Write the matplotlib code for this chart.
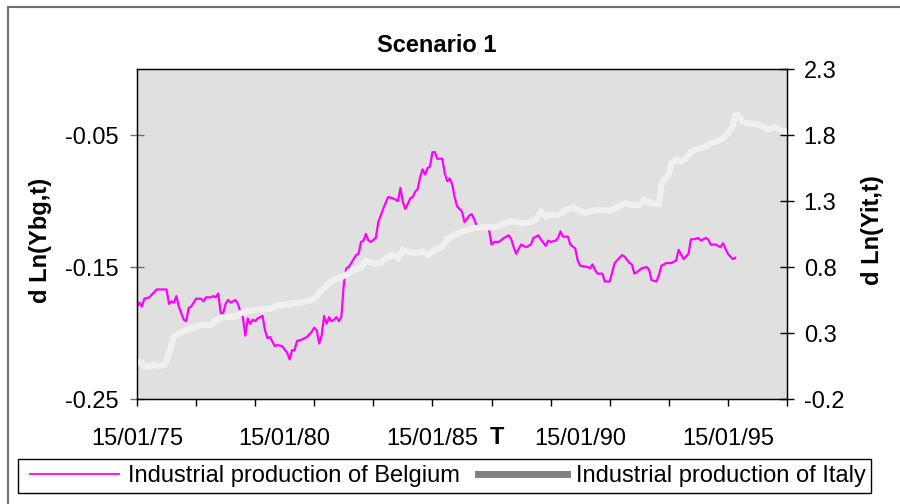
import matplotlib
matplotlib.use("Agg")
import matplotlib.pyplot as plt
from matplotlib.lines import Line2D
from matplotlib.patches import Rectangle

plt.rcParams['font.family'] = ['Liberation Sans', 'DejaVu Sans']

# Belgium (left axis), month index from 15/01/75
bel_month = [0, 1, 2, 3, 5, 7, 8, 12, 13, 14, 15, 16, 17, 19, 20, 21, 22, 24, 26, 27,
             28, 30, 31, 32, 33, 34, 35, 36, 37, 38, 40, 41, 42, 43, 44, 45, 46, 47, 48, 49,
             51, 52, 53, 54, 56, 57, 59, 61, 62, 63, 64, 65, 67, 69, 71, 72, 73, 74, 75, 76,
             77, 78, 79, 80, 81, 82, 83, 84, 85, 86, 89, 90, 91, 92, 93, 94, 95, 97, 98, 100,
             102, 104, 106, 107, 108, 109, 111, 112, 113, 114, 115, 116, 117, 118, 119, 120,
             121, 122, 123, 124, 125, 126, 127, 128, 129, 130, 132, 133, 135, 136, 137, 138,
             142, 143, 144, 145, 147, 149, 151, 152, 153, 154, 156, 158, 160, 161, 163, 164,
             166, 167, 168, 170, 171, 172, 173, 175, 176, 178, 179, 180, 183, 184, 185, 186,
             187, 189, 190, 192, 194, 195, 197, 198, 200, 201, 202, 203, 205, 207, 208, 209,
             211, 212, 213, 215, 217, 219, 220, 222, 224, 225, 226, 228, 229, 231, 232, 233,
             235, 237, 238, 239, 240, 242, 243]
bel_value = [-0.180, -0.177, -0.180, -0.174, -0.173, -0.169, -0.167, -0.167, -0.178, -0.176,
             -0.177, -0.172, -0.180, -0.190, -0.191, -0.181, -0.180, -0.174, -0.174, -0.176,
             -0.173, -0.173, -0.172, -0.173, -0.170, -0.185, -0.185, -0.178, -0.175, -0.177,
             -0.175, -0.178, -0.184, -0.188, -0.202, -0.189, -0.193, -0.190, -0.191, -0.189,
             -0.187, -0.198, -0.204, -0.203, -0.210, -0.209, -0.210, -0.215, -0.220, -0.213,
             -0.213, -0.206, -0.205, -0.203, -0.199, -0.196, -0.198, -0.208, -0.202, -0.187,
             -0.193, -0.188, -0.191, -0.190, -0.188, -0.191, -0.188, -0.163, -0.151, -0.150,
             -0.141, -0.140, -0.131, -0.130, -0.125, -0.130, -0.131, -0.128, -0.116, -0.106,
             -0.097, -0.098, -0.100, -0.090, -0.101, -0.106, -0.098, -0.097, -0.093, -0.091,
             -0.082, -0.076, -0.080, -0.075, -0.074, -0.063, -0.063, -0.068, -0.068, -0.068,
             -0.079, -0.085, -0.083, -0.087, -0.097, -0.104, -0.108, -0.116, -0.111, -0.110,
             -0.114, -0.119, -0.120, -0.122, -0.133, -0.131, -0.131, -0.128, -0.126, -0.129,
             -0.135, -0.140, -0.133, -0.135, -0.133, -0.128, -0.126, -0.129, -0.134, -0.130,
             -0.131, -0.130, -0.128, -0.123, -0.127, -0.127, -0.133, -0.136, -0.145, -0.149,
             -0.150, -0.151, -0.148, -0.152, -0.155, -0.155, -0.161, -0.161, -0.147, -0.145,
             -0.141, -0.142, -0.147, -0.148, -0.155, -0.154, -0.151, -0.150, -0.152, -0.160,
             -0.161, -0.156, -0.149, -0.147, -0.147, -0.145, -0.137, -0.144, -0.140, -0.129,
             -0.129, -0.128, -0.130, -0.128, -0.129, -0.133, -0.133, -0.135, -0.132, -0.136,
             -0.140, -0.144, -0.143]

# Italy (right axis)
ita_month = [0, 2, 3, 5, 7, 9, 11, 12, 13, 14, 15, 16, 18, 20, 22, 24, 26, 28, 30, 32,
             34, 36, 38, 40, 42, 44, 46, 48, 50, 52, 55, 57, 60, 63, 66, 68, 71, 73, 74, 76,
             78, 80, 82, 85, 87, 89, 91, 93, 96, 99, 101, 104, 106, 108, 110, 113, 116, 118,
             121, 124, 126, 129, 132, 135, 137, 140, 143, 145, 148, 151, 154, 156, 159, 162,
             164, 166, 168, 171, 174, 177, 179, 182, 185, 187, 190, 193, 195, 198, 201, 204,
             206, 209, 212, 213, 214, 216, 217, 219, 221, 223, 225, 227, 229, 231, 233, 235,
             238, 240, 242, 243, 244, 246, 248, 251, 254, 256, 259, 262, 264]
ita_value = [0.083, 0.070, 0.045, 0.050, 0.058, 0.050, 0.058, 0.095, 0.146, 0.209, 0.267,
             0.285, 0.302, 0.323, 0.336, 0.348, 0.361, 0.361, 0.361, 0.398, 0.411, 0.423,
             0.423, 0.423, 0.449, 0.461, 0.469, 0.474, 0.480, 0.480, 0.487, 0.512, 0.512,
             0.525, 0.530, 0.537, 0.550, 0.575, 0.613, 0.639, 0.677, 0.700, 0.720, 0.739,
             0.770, 0.783, 0.795, 0.848, 0.828, 0.833, 0.866, 0.891, 0.866, 0.929, 0.916,
             0.904, 0.916, 0.891, 0.929, 0.954, 1.010, 1.042, 1.067, 1.086, 1.093, 1.101,
             1.101, 1.101, 1.118, 1.143, 1.143, 1.131, 1.136, 1.156, 1.219, 1.186, 1.194,
             1.194, 1.232, 1.252, 1.232, 1.211, 1.227, 1.232, 1.227, 1.232, 1.252, 1.283,
             1.270, 1.270, 1.308, 1.283, 1.277, 1.421, 1.459, 1.497, 1.586, 1.611, 1.598,
             1.623, 1.674, 1.692, 1.699, 1.711, 1.737, 1.749, 1.775, 1.813, 1.868, 1.944,
             1.952, 1.901, 1.889, 1.883, 1.868, 1.843, 1.858, 1.833, 1.825]

label_months = [0, 60, 120, 180, 240]
label_dates = ['15/01/75', '15/01/80', '15/01/85', '15/01/90', '15/01/95']
left_ticks = [-0.25, -0.15, -0.05]
right_ticks = [-0.2, 0.3, 0.8, 1.3, 1.8, 2.3]

FS = 17
W, H = 900, 504

fig = plt.figure(figsize=(9, 5.04), dpi=100)
# outer chart border (only left and top fall inside the picture)
fig.add_artist(Rectangle((8 / W, -0.1), 1.0, 1 - 7 / H + 0.1, transform=fig.transFigure,
                         fill=False, edgecolor='#707070', linewidth=1.5))

ax = fig.add_axes([137 / W, 1 - 399 / H, 650 / W, 330 / H])
ax.set_facecolor('#e0e0e0')
ax.plot(bel_month, bel_value, color='#ff00ff', lw=1.6)
ax.set_xlim(0, 264)
ax.set_ylim(-0.25, 0.0)
ax.set_yticks(left_ticks)
ax.set_yticklabels(['%.2f' % t for t in left_ticks])
ax.tick_params(axis='y', direction='inout', length=10, width=1, color='#707070',
               labelsize=FS, pad=8)
# tick marks every 2 years, date labels every 5 years
ax.xaxis.remove_overlapping_locs = False
ax.set_xticks(range(0, 265, 24))
ax.set_xticklabels([])
ax.set_xticks(label_months, minor=True)
ax.set_xticklabels(label_dates, minor=True)
ax.tick_params(axis='x', which='major', direction='out', length=5, width=1)
ax.tick_params(axis='x', which='minor', length=0, labelsize=FS, pad=21)
for s in ax.spines.values():
    s.set_linewidth(1)
    s.set_color('black')

ax2 = ax.twinx()
ax2.plot(ita_month, ita_value, color='#f0f0f0', lw=4.5, solid_joinstyle='miter')
ax2.set_ylim(-0.2, 2.3)
ax2.set_yticks(right_ticks)
ax2.set_yticklabels(['%.1f' % t for t in right_ticks])
ax2.tick_params(axis='y', direction='inout', length=10, width=1, labelsize=FS, pad=7)
ax2.set_xlim(0, 264)

fig.text(437 / W, 1 - 45 / H, 'Scenario 1', ha='center', va='center',
         fontsize=FS, fontweight='bold')
fig.text(40 / W, 1 - 240 / H, 'd Ln(Ybg,t)', rotation=90, ha='center', va='center',
         fontsize=FS, fontweight='bold')
fig.text(873 / W, 1 - 230 / H, 'd Ln(Yit,t)', rotation=90, ha='center', va='center',
         fontsize=FS, fontweight='bold')
fig.text(497 / W, 1 - 437 / H, 'T', ha='center', va='center',
         fontsize=FS, fontweight='bold')

# legend box drawn separately so its size matches the original
fig.add_artist(Rectangle((18 / W, 1 - 493 / H), 853 / W, 34 / H, transform=fig.transFigure,
                         fill=False, edgecolor='black', linewidth=1))
handles = [Line2D([], [], color='#ff00ff', lw=1.3),
           Line2D([], [], color='#808080', lw=5)]
fig.legend(handles, ['Industrial production of Belgium', 'Industrial production of Italy'],
           loc='center left', bbox_to_anchor=(30 / W, 1 - 476 / H), ncol=2,
           fontsize=FS, frameon=False, borderpad=0, handlelength=3.77, handletextpad=0.38,
           columnspacing=0.76, borderaxespad=0)

fig.savefig('out.png', dpi=100)
